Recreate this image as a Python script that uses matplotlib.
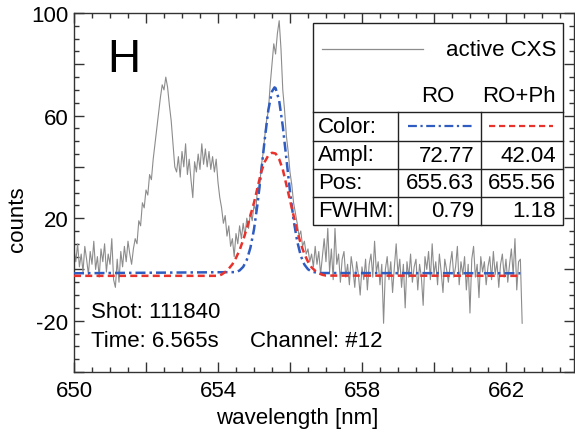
import numpy as np
import matplotlib
matplotlib.use("Agg")
import matplotlib.pyplot as plt
from matplotlib.lines import Line2D
from matplotlib.patches import Rectangle
from matplotlib.ticker import MultipleLocator

plt.rcParams['font.family'] = ['Liberation Sans', 'DejaVu Sans']

# ---------------- data ----------------
wl_start = 650.0
wl_step = 0.05
spectrum_counts = [
    8, 3, 10, 1, 6, -1, 9, 4, -2, 7,          # 650.00
    2, 11, 0, 5, -3, 8, 3, 10, -1, 6,         # 650.50
    2, 12, -4, -7, 4, -5, 7, 1, 9, 3,         # 651.00
    11, 6, 2, 8, 12, 10, 19, 17, 26, 24,      # 651.50
    31, 29, 37, 35, 43, 49, 55, 61, 67, 72,   # 652.00
    70, 75, 71, 64, 58, 49, 40, 38, 44, 36,   # 652.50
    46, 40, 49, 37, 43, 35, 28, 42, 38, 45,   # 653.00
    39, 49, 41, 47, 40, 46, 39, 44, 38, 43,   # 653.50
    34, 28, 24, 18, 21, 13, 17, 9, 12, 5,     # 654.00
    14, 10, 17, 12, 18, 13, 20, 16, 22, 19,   # 654.50
    25, 23, 32, 30, 40, 45, 52, 58, 62, 72,   # 655.00
    80, 88, 84, 92, 97, 86, 70, 62, 52, 46,   # 655.50
    38, 33, 26, 22, 18, 13, 15, 9, 11, 6,     # 656.00
    8, 3, 6, 1, 9, 2, 7, -2, 5, 12,           # 656.50
    3, 16, -1, 8, -4, 16, 2, 6, -5, 4,        # 657.00
    7, -3, 2, -6, 5, 0, -7, 3, -2, -10,       # 657.50
    1, -4, 4, -8, 2, 6, -3, 11, -1, 3,        # 658.00
    -6, 2, -21, 0, 5, -4, 3, -9, 1, 10,       # 658.50
    -2, 4, -7, 2, -15, 3, -3, 6, -5, 1,       # 659.00
    4, -8, 2, -3, -14, 5, 0, 7, -4, 10,       # 659.50
    -2, 3, -6, 6, -1, -9, 4, 0, -5, 2,        # 660.00
    7, -3, 1, 9, -6, 3, -2, 5, -8, 2,         # 660.50
    -17, 4, 9, -3, 2, -11, 5, -1, 3, -6,      # 661.00
    1, 5, -4, 7, -2, 3, -7, 2, 6, -3,         # 661.50
    4, -5, 2, 8, -2, 12, -8, 3, 4, -21,       # 662.00
]
spectrum_wl = wl_start + wl_step * np.arange(len(spectrum_counts))

ro_wl = [650.0, 654.5, 654.6, 654.7, 654.8, 654.9, 655.0, 655.1, 655.2, 655.3,
         655.4, 655.5, 655.57, 655.6, 655.7, 655.8, 655.9, 656.0, 656.1, 656.2,
         656.3, 656.4, 656.5, 656.6, 656.8, 662.4]
ro_counts = [-1.5, -1.05, -0.4, 1.0, 3.7, 8.4, 15.6, 25.7, 38.0, 50.9,
             62.3, 69.4, 71.0, 70.7, 65.8, 55.8, 43.2, 30.4, 19.3, 11.0,
             5.3, 1.9, 0.06, -0.85, -1.4, -1.5]

roph_wl = [650.0, 654.0, 654.1, 654.2, 654.3, 654.4, 654.5, 654.6, 654.7, 654.8,
           654.9, 655.0, 655.1, 655.2, 655.3, 655.4, 655.5, 655.6, 655.7, 655.8,
           655.9, 656.0, 656.1, 656.2, 656.3, 656.4, 656.5, 656.6, 656.7, 656.8,
           656.9, 657.0, 662.4]
roph_counts = [-2.5, -2.5, -2.0, -1.0, 0.3, 2.0, 4.5, 7.5, 11.5, 16,
               21, 26, 32, 38, 42, 44.5, 45.5, 45.2, 43, 39,
               33, 27, 21, 15, 10, 6, 3, 0.8, -0.5, -1.5,
               -2.1, -2.4, -2.5]

table_cols = ["RO", "RO+Ph"]
table_rows = ["Color:", "Ampl:", "Pos:", "FWHM:"]
ampl_vals = ["72.77", "42.04"]
pos_vals = ["655.63", "655.56"]
fwhm_vals = ["0.79", "1.18"]

x_ticks = [650, 654, 658, 662]
y_ticks = [100, 60, 20, -20]

# ---------------- figure ----------------
W, H = 575, 435
fig = plt.figure(figsize=(W / 100, H / 100), dpi=100)

def fx(px):
    return px / W

def fy(py):
    return 1 - py / H

ax = fig.add_axes([fx(74), fy(373), fx(574) - fx(74), fy(14) - fy(373)])

GRAY = "#8c8c8c"
BLUE = "#2f5cc0"
RED = "#e8322b"

ax.plot(spectrum_wl, spectrum_counts, color=GRAY, lw=0.8, zorder=2)
l_ro, = ax.plot(ro_wl, ro_counts, color=BLUE, lw=1.8, zorder=3)
l_ro.set_dashes([4, 1.6, 1, 1.6])
l_roph, = ax.plot(roph_wl, roph_counts, color=RED, lw=1.8, zorder=4)
l_roph.set_dashes([2.8, 1.7])

ax.set_xlim(650, 663.89)
ax.set_ylim(-40, 100)

ax.xaxis.set_major_locator(MultipleLocator(2))
ax.xaxis.set_minor_locator(MultipleLocator(0.5))
ax.yaxis.set_major_locator(MultipleLocator(20))
ax.yaxis.set_minor_locator(MultipleLocator(5))

ax.tick_params(which='both', direction='in', top=True, right=True,
               colors='#333333', labelcolor='black', labelsize=16)
ax.tick_params(which='major', length=7, width=1.0)
ax.tick_params(which='minor', length=3.8, width=1.0)
ax.tick_params(axis='x', pad=6)
ax.tick_params(axis='y', pad=4)

ax.set_xticks(np.arange(650, 664, 2))
ax.set_xticklabels([str(t) if t in x_ticks else "" for t in np.arange(650, 664, 2)])
ax.set_yticks(np.arange(-40, 101, 20))
ax.set_yticklabels([str(t) if t in y_ticks else "" for t in np.arange(-40, 101, 20)])

for s in ax.spines.values():
    s.set_color('#333333')
    s.set_linewidth(1.0)

# axis labels
fig.text(fx(297), fy(419), "wavelength [nm]", fontsize=16, ha='center', va='center')
fig.text(fx(18), fy(219), "counts", fontsize=16, ha='center', va='center', rotation=90)

# annotations
fig.text(fx(107), fy(60), "H", fontsize=33, ha='left', va='center')
fig.text(fx(91), fy(313), "Shot: 111840", fontsize=16, ha='left', va='center')
fig.text(fx(91), fy(342), "Time: 6.565s", fontsize=16, ha='left', va='center')
fig.text(fx(250), fy(342), "Channel: #12", fontsize=16, ha='left', va='center')

# ---------------- table ----------------
L, R, T, B = 313, 563, 24, 226
hl = [113, 142, 170, 198]
vl = [398, 481]

fig.add_artist(Rectangle((fx(L), fy(B)), fx(R) - fx(L), fy(T) - fy(B),
                         transform=fig.transFigure, facecolor='white',
                         edgecolor='#222222', lw=1.0, zorder=5))
for y in hl:
    fig.add_artist(Line2D([fx(L), fx(R)], [fy(y), fy(y)], transform=fig.transFigure,
                          color='#222222', lw=1.0, zorder=6))
for x in vl:
    fig.add_artist(Line2D([fx(x), fx(x)], [fy(hl[0]), fy(B)], transform=fig.transFigure,
                          color='#222222', lw=1.0, zorder=6))

fig.add_artist(Line2D([fx(322), fx(423)], [fy(50), fy(50)], transform=fig.transFigure,
                      color=GRAY, lw=0.9, zorder=6))
fig.text(fx(556), fy(51), "active CXS", fontsize=16, ha='right', va='center', zorder=7)
fig.text(fx(438), fy(97), table_cols[0], fontsize=16, ha='center', va='center', zorder=7)
fig.text(fx(556), fy(97), table_cols[1], fontsize=16, ha='right', va='center', zorder=7)

row_c = [127.5, 156, 184, 211.5]
for name, yc in zip(table_rows, row_c):
    fig.text(fx(318), fy(yc), name, fontsize=16, ha='left', va='center', zorder=7)

sb = Line2D([fx(408), fx(472)], [fy(127), fy(127)], transform=fig.transFigure,
            color=BLUE, lw=1.6, zorder=7)
sb.set_dashes([4, 1.6, 1, 1.6])
fig.add_artist(sb)
sr = Line2D([fx(489), fx(553)], [fy(127), fy(127)], transform=fig.transFigure,
            color=RED, lw=1.6, zorder=7)
sr.set_dashes([2.8, 1.7])
fig.add_artist(sr)

for vals, yc in zip([ampl_vals, pos_vals, fwhm_vals], row_c[1:]):
    fig.text(fx(474), fy(yc), vals[0], fontsize=16, ha='right', va='center', zorder=7)
    fig.text(fx(556), fy(yc), vals[1], fontsize=16, ha='right', va='center', zorder=7)

fig.savefig("out.png", dpi=100)
